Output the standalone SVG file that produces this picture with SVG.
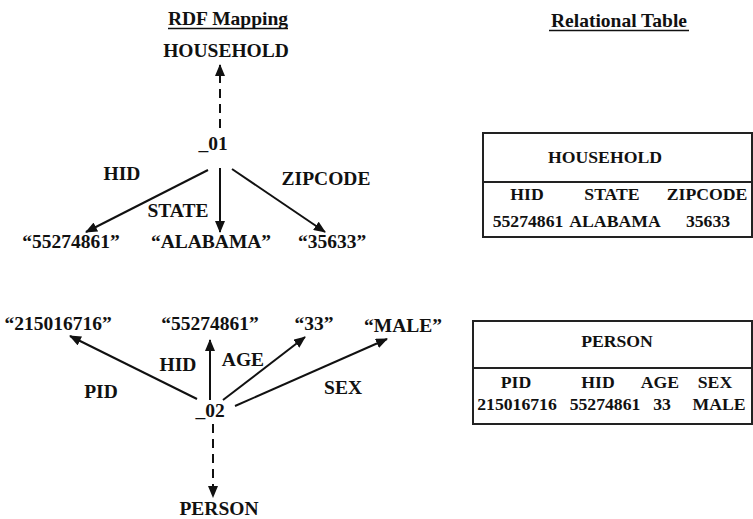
<svg xmlns="http://www.w3.org/2000/svg" width="753" height="519" viewBox="0 0 753 519">
<style>
text{font-family:"Liberation Serif","Times New Roman",serif;font-weight:bold;fill:#111;text-anchor:middle}
.g{font-size:19.5px}
.t{font-size:17.7px}
.e{stroke:#111;stroke-width:2;fill:none}
.d{stroke-dasharray:9,6}
.box{stroke:#222;stroke-width:2;fill:#fff}
</style>
<defs>
<marker id="ah" viewBox="0 0 12 10" refX="11" refY="5" markerWidth="12" markerHeight="10" markerUnits="userSpaceOnUse" orient="auto">
<path d="M0,0 L12,5 L0,10 z" fill="#111"/>
</marker>
</defs>
<rect width="753" height="519" fill="#fff"/>
<g id="titles">
<text class="g" x="228" y="25">RDF Mapping</text>
<line x1="168" y1="28.5" x2="288" y2="28.5" stroke="#111" stroke-width="1.5"/>
<text class="g" x="619" y="27">Relational Table</text>
<line x1="549" y1="30.5" x2="689" y2="30.5" stroke="#111" stroke-width="1.5"/>
</g>
<g id="connectors">
<line class="e d" x1="220" y1="128" x2="220" y2="65" marker-end="url(#ah)"/>
<line class="e" x1="208" y1="170" x2="86" y2="232" marker-end="url(#ah)"/>
<line class="e" x1="220" y1="168" x2="220" y2="232" marker-end="url(#ah)"/>
<line class="e" x1="232" y1="169" x2="325" y2="232" marker-end="url(#ah)"/>
<line class="e" x1="197" y1="399" x2="70" y2="336" marker-end="url(#ah)"/>
<line class="e" x1="210" y1="400" x2="210" y2="340" marker-end="url(#ah)"/>
<line class="e" x1="223" y1="400" x2="305" y2="337" marker-end="url(#ah)"/>
<line class="e" x1="235" y1="406" x2="387" y2="339" marker-end="url(#ah)"/>
<line class="e d" x1="213" y1="424" x2="213" y2="497" marker-end="url(#ah)"/>
</g>
<g id="edge-labels">
<text class="g" x="122" y="180">HID</text>
<text class="g" x="326" y="185">ZIPCODE</text>
<text class="g" x="178" y="217">STATE</text>
<text class="g" x="178" y="371">HID</text>
<text class="g" x="243" y="366">AGE</text>
<text class="g" x="101" y="398">PID</text>
<text class="g" x="343" y="394">SEX</text>
</g>
<g id="n-household"><text class="g" x="226" y="57">HOUSEHOLD</text></g>
<g id="n-01"><text class="g" x="213" y="150">_01</text></g>
<g id="n-hid1"><text class="g" x="71" y="248">“55274861”</text></g>
<g id="n-alabama"><text class="g" x="211" y="248">“ALABAMA”</text></g>
<g id="n-35633"><text class="g" x="332" y="248">“35633”</text></g>
<g id="n-pid"><text class="g" x="58" y="330">“215016716”</text></g>
<g id="n-hid2"><text class="g" x="210" y="330">“55274861”</text></g>
<g id="n-33"><text class="g" x="314" y="330">“33”</text></g>
<g id="n-male"><text class="g" x="403" y="332">“MALE”</text></g>
<g id="n-02"><text class="g" x="210" y="417">_02</text></g>
<g id="n-person"><text class="g" x="219" y="515">PERSON</text></g>
<g id="table-household">
<rect class="box" x="483" y="133" width="269" height="104"/>
<line x1="483" y1="182" x2="752" y2="182" stroke="#222" stroke-width="2"/>
<text class="t" x="605" y="163">HOUSEHOLD</text>
<text class="t" x="527" y="200">HID</text>
<text class="t" x="612" y="200">STATE</text>
<text class="t" x="707" y="200">ZIPCODE</text>
<text class="t" x="528" y="227">55274861</text>
<text class="t" x="615" y="227">ALABAMA</text>
<text class="t" x="708" y="227">35633</text>
</g>
<g id="table-person">
<rect class="box" x="473" y="321" width="279" height="103"/>
<line x1="473" y1="368" x2="752" y2="368" stroke="#222" stroke-width="2"/>
<text class="t" x="617" y="347">PERSON</text>
<text class="t" x="516" y="388">PID</text>
<text class="t" x="598" y="388">HID</text>
<text class="t" x="660" y="388">AGE</text>
<text class="t" x="715" y="388">SEX</text>
<text class="t" x="517" y="410">215016716</text>
<text class="t" x="605" y="410">55274861</text>
<text class="t" x="662" y="410">33</text>
<text class="t" x="719" y="410">MALE</text>
</g>
</svg>
